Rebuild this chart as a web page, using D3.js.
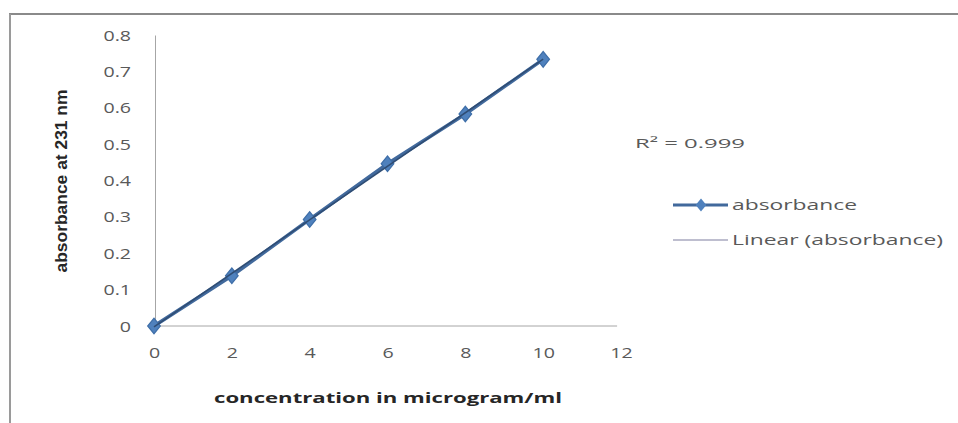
<!DOCTYPE html>
<html>
<head>
<meta charset="utf-8">
<script src="https://cdn.jsdelivr.net/npm/d3@7"></script>
<style>
  body { margin: 0; background: #fff; }
  svg { display: block; }
</style>
</head>
<body>
<div id="chart"></div>
<script>
// data
var concentration = [0, 2, 4, 6, 8, 10];
var absorbance = [0, 0.138, 0.293, 0.446, 0.583, 0.733];
var xTicks = [0, 2, 4, 6, 8, 10, 12];
var yTicks = [0, 0.1, 0.2, 0.3, 0.4, 0.5, 0.6, 0.7, 0.8];
var rSquaredLabel = "R² = 0.999";

var width = 958, height = 423;

var svg = d3.select('#chart').append('svg')
  .attr('width', width)
  .attr('height', height);

// the original text is stretched sideways, so widen text after it is drawn
function stretch(sel, factor) {
  sel.each(function() {
    var w = this.getComputedTextLength();
    d3.select(this).attr('textLength', w * factor).attr('lengthAdjust', 'spacingAndGlyphs');
  });
}

// frame (only top and left edges show in the crop)
svg.append('line').attr('x1', 9).attr('x2', width).attr('y1', 14).attr('y2', 14)
  .attr('stroke', '#8a8a8a').attr('stroke-width', 2);
svg.append('line').attr('x1', 10).attr('x2', 10).attr('y1', 14).attr('y2', height)
  .attr('stroke', '#9a9a9a').attr('stroke-width', 2);

var xScale = d3.scaleLinear().domain([0, 12]).range([154, 621]);
var yScale = d3.scaleLinear().domain([0, 0.8]).range([326, 35]);

var labelFont = '"Open Sans", "DejaVu Sans", sans-serif';

/* axes */
var xAxis = d3.axisBottom(xScale).tickValues(xTicks).tickSize(0).tickPadding(22)
  .tickFormat(d3.format('d'));
var yAxis = d3.axisLeft(yScale).tickValues(yTicks).tickSize(0).tickPadding(24)
  .tickFormat(function(d) { return d === 0 ? '0' : d3.format('.1f')(d); });

var gx = svg.append('g')
  .attr('transform', `translate(0, ${yScale(0)})`)
  .call(xAxis);
gx.select('.domain').attr('stroke', '#a6a6a6').attr('d', `M${xScale(0)},0H${xScale(11.9)}`);

var gy = svg.append('g')
  .attr('transform', `translate(${xScale(0) + 1}, 0)`)
  .call(yAxis);
gy.select('.domain').attr('stroke', '#a6a6a6');

svg.selectAll('.tick text')
  .attr('font-family', labelFont)
  .attr('font-size', 14)
  .attr('fill', '#595959');
gy.selectAll('.tick text').attr('dy', '0.36em');
stretch(svg.selectAll('.tick text'), 1.4);

/* axis titles */
svg.append('text')
  .attr('transform', `translate(67, 181) rotate(-90)`)
  .attr('text-anchor', 'middle')
  .attr('font-family', '"Liberation Sans Narrow", "Liberation Sans", Arial, sans-serif')
  .attr('font-size', 17)
  .attr('font-weight', 'bold')
  .attr('fill', '#262626')
  .attr('textLength', 183)
  .attr('lengthAdjust', 'spacingAndGlyphs')
  .text('absorbance at 231 nm');

svg.append('text')
  .attr('x', 388)
  .attr('y', 403)
  .attr('text-anchor', 'middle')
  .attr('font-family', labelFont)
  .attr('font-size', 15)
  .attr('font-weight', 'bold')
  .attr('fill', '#262626')
  .attr('textLength', 348)
  .attr('lengthAdjust', 'spacingAndGlyphs')
  .text('concentration in microgram/ml');

/* series */
var points = concentration.map((c, i) => ({ x: c, y: absorbance[i] }));

var line = d3.line()
  .x(d => xScale(d.x))
  .y(d => yScale(d.y));

svg.append('path')
  .datum(points)
  .attr('d', line)
  .attr('fill', 'none')
  .attr('stroke', '#41699c')
  .attr('stroke-width', 3.5);

var diamond = d3.symbol().type(d3.symbolDiamond).size(70);
svg.append('g').selectAll('path')
  .data(points).enter()
  .append('path')
  .attr('d', diamond)
  .attr('transform', d => `translate(${xScale(d.x)}, ${yScale(d.y)}) scale(1.4, 1)`)
  .attr('fill', '#4f81bd')
  .attr('stroke', '#3e6ea8')
  .attr('stroke-width', 1);

/* linear trendline (least squares) */
var mx = d3.mean(concentration), my = d3.mean(absorbance);
var slope = d3.sum(points, d => (d.x - mx) * (d.y - my)) / d3.sum(points, d => (d.x - mx) * (d.x - mx));
var intercept = my - slope * mx;
var trend = [0, 10].map(x => ({ x: x, y: intercept + slope * x }));

svg.append('path')
  .datum(trend)
  .attr('d', line)
  .attr('fill', 'none')
  .attr('stroke', '#2f4d74')
  .attr('stroke-width', 1.5);

/* R squared */
svg.append('text')
  .attr('x', 635)
  .attr('y', 148)
  .attr('font-family', labelFont)
  .attr('font-size', 13.5)
  .attr('fill', '#595959')
  .attr('textLength', 110)
  .attr('lengthAdjust', 'spacingAndGlyphs')
  .text(rSquaredLabel);

/* legend */
var legend = svg.append('g').attr('transform', 'translate(673, 0)');

legend.append('line').attr('x1', 0).attr('x2', 55).attr('y1', 205).attr('y2', 205)
  .attr('stroke', '#41699c').attr('stroke-width', 3);
legend.append('path').attr('d', diamond.size(50))
  .attr('transform', 'translate(28, 205) scale(1.4, 1)')
  .attr('fill', '#4f81bd');
legend.append('text').attr('x', 59).attr('y', 210)
  .attr('font-family', labelFont).attr('font-size', 15).attr('fill', '#595959')
  .attr('textLength', 125).attr('lengthAdjust', 'spacingAndGlyphs')
  .text('absorbance');

legend.append('line').attr('x1', 0).attr('x2', 55).attr('y1', 240).attr('y2', 240)
  .attr('stroke', '#7f7f9f').attr('stroke-width', 1.2);
legend.append('text').attr('x', 59).attr('y', 245)
  .attr('font-family', labelFont).attr('font-size', 15).attr('fill', '#595959')
  .attr('textLength', 211).attr('lengthAdjust', 'spacingAndGlyphs')
  .text('Linear (absorbance)');
</script>
</body>
</html>
